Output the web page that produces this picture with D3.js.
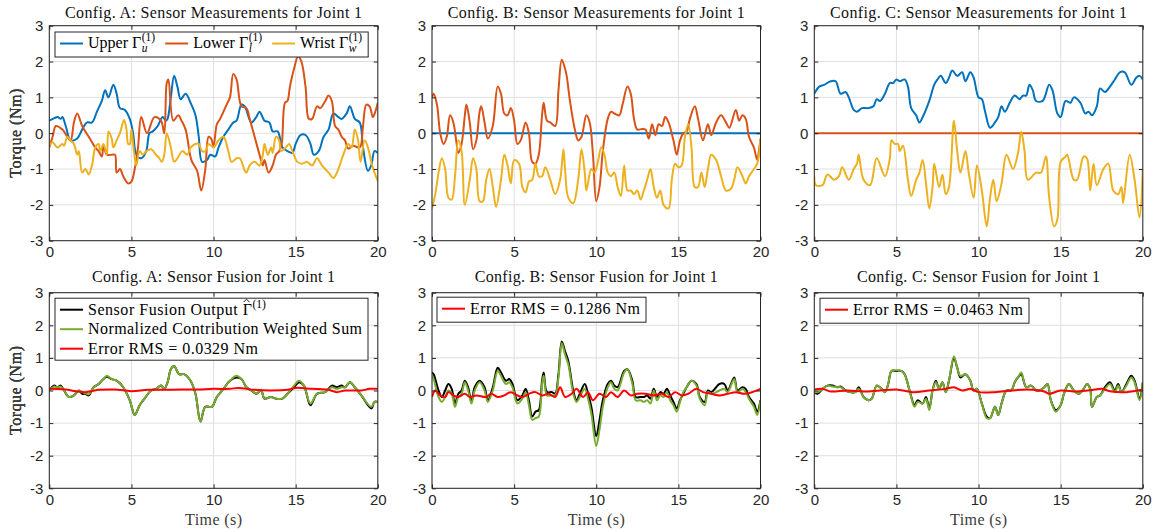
<!DOCTYPE html>
<html>
<head>
  <meta charset="utf-8">
  <title>sensor fusion joint 1</title>
  <script src="https://cdn.jsdelivr.net/npm/d3@7"></script>
  <style>
    body { margin: 0; background: #fff; }
    text { font-family: "Liberation Serif", "Times New Roman", serif; }
  </style>
</head>
<body>
  <div id="chart"></div>
  <script type="text/javascript">
    // ---- data (time s, torque Nm) ----
    var tickX = [0, 5, 10, 15, 20];
    var tickY = [-3, -2, -1, 0, 1, 2, 3];

    var aUpper = [[0,0.35],[0.3,0.42],[0.5,0.45],[0.7,0.4],[0.8,0.45],[1.0,0.2],[1.3,-0.2],[1.7,-0.15],[2.0,0.1],[2.3,0.3],[2.6,0.3],[2.9,0.6],[3.2,0.9],[3.4,1.2],[3.6,1.0],[3.9,1.35],[4.1,1.1],[4.3,0.7],[4.6,0.65],[4.9,0.4],[5.1,0],[5.3,-0.6],[5.6,-0.7],[5.9,-0.5],[6.1,0],[6.3,0.05],[6.6,0.2],[6.9,0.45],[7.1,0.35],[7.2,0.4],[7.4,1.0],[7.6,1.6],[7.8,1.3],[8.0,0.95],[8.3,1.1],[8.6,0.85],[8.9,0.5],[9.1,-0.1],[9.3,-0.8],[9.6,-0.75],[9.8,-0.6],[10.1,-0.65],[10.3,-0.4],[10.6,-0.1],[10.9,0.1],[11.2,0.3],[11.4,0.35],[11.7,0.8],[11.9,0.75],[12.3,0.3],[12.6,0.45],[12.8,0.6],[13.1,0.35],[13.4,0.3],[13.6,0.05],[13.9,0.05],[14.2,-0.4],[14.5,-0.5],[14.8,-0.55],[15.0,-0.3],[15.3,-0.05],[15.6,-0.05],[15.9,-0.3],[16.1,-0.6],[16.4,-0.5],[16.7,-0.1],[17.0,0.1],[17.3,0.55],[17.6,0.45],[17.8,0.4],[18.1,0.55],[18.3,0.75],[18.6,0.4],[18.9,0.3],[19.1,-0.4],[19.4,-1.05],[19.6,-0.9],[19.8,-0.5],[20,-0.55]];
    var aLower = [[0,-0.4],[0.2,-0.1],[0.4,0.2],[0.8,0.1],[1.1,-0.1],[1.3,-0.2],[1.5,0.3],[1.7,0.55],[2.0,0.2],[2.4,-0.1],[2.8,-0.4],[3.0,-0.5],[3.2,-0.65],[3.3,-0.35],[3.5,-0.6],[3.8,-0.6],[4.0,-0.6],[4.1,-1.1],[4.3,-1.0],[4.5,-1.2],[4.8,-1.4],[5.0,-1.35],[5.2,-1.0],[5.4,-0.4],[5.6,0.45],[5.95,0.0],[6.4,0.45],[6.8,0.35],[7.0,0.0],[7.15,1.4],[7.25,1.5],[7.55,0.35],[7.85,0.5],[8.05,0.35],[8.3,0.1],[8.65,-0.75],[9.0,-1.05],[9.25,-1.6],[9.5,-1.0],[9.7,-0.1],[9.85,-0.15],[10.0,-0.35],[10.2,0.25],[10.4,0.4],[10.8,0.8],[11.0,1.0],[11.2,1.65],[11.4,1.5],[11.7,0.75],[12.0,0.7],[12.2,0.4],[12.5,-0.1],[12.8,-0.6],[13.0,-0.9],[13.1,-0.75],[13.35,-1.1],[13.6,-0.9],[13.8,-0.6],[14.0,-0.5],[14.15,-0.3],[14.35,0.85],[14.5,0.9],[14.65,1.3],[14.9,1.8],[15.15,2.15],[15.35,2.0],[15.6,1.3],[15.8,0.4],[16.0,0.4],[16.3,0.75],[16.5,0.7],[16.8,0.9],[17.0,1.05],[17.2,0.9],[17.4,0.2],[17.6,0.1],[17.8,-0.1],[18.0,-0.2],[18.2,-0.43],[18.5,-0.35],[18.9,-0.4],[19.1,0.2],[19.3,0.8],[19.5,0.75],[19.7,0.45],[19.85,0.6],[20,0.85]];
    var aWrist = [[0,-0.35],[0.2,-0.25],[0.5,-0.4],[0.8,-0.3],[0.9,-0.35],[1.1,-0.1],[1.3,-0.2],[1.5,-0.3],[1.7,-0.6],[1.8,-0.5],[2.0,-1.1],[2.2,-1.0],[2.4,-1.15],[2.6,-0.9],[2.8,-0.4],[3.0,-0.3],[3.1,-0.5],[3.3,-0.3],[3.5,-0.6],[3.6,0.05],[3.8,-0.15],[3.9,-0.4],[4.1,-0.2],[4.3,0.0],[4.55,0.37],[4.7,0.1],[4.8,-0.3],[4.9,-0.3],[5.0,0.1],[5.15,-0.5],[5.3,-0.9],[5.5,-0.5],[5.7,-0.6],[5.9,-0.5],[6.2,-0.45],[6.5,-0.6],[6.7,-0.7],[6.85,-0.8],[7.0,-0.6],[7.15,0.0],[7.4,-0.4],[7.6,-0.8],[7.8,-0.7],[8.1,-0.5],[8.4,-0.6],[8.6,-0.4],[8.9,-0.3],[9.1,-0.3],[9.3,-0.5],[9.5,-0.5],[9.7,-0.3],[10.0,-0.4],[10.3,-0.2],[10.6,-0.1],[10.9,-0.5],[11.1,-0.8],[11.4,-0.7],[11.6,-0.7],[11.9,-1.05],[12.0,-1.1],[12.2,-0.9],[12.5,-0.8],[12.8,-0.9],[13.0,-0.6],[13.1,-0.3],[13.3,-0.6],[13.5,-0.4],[13.6,-0.55],[13.8,-0.1],[14.0,-0.2],[14.1,-0.5],[14.4,-0.4],[14.6,-0.3],[14.8,-0.5],[15.1,-0.8],[15.4,-0.85],[15.7,-0.8],[16.0,-0.9],[16.3,-0.7],[16.6,-0.9],[17.0,-1.1],[17.3,-1.25],[17.6,-1.0],[17.9,-0.6],[18.2,-0.3],[18.4,-0.4],[18.6,0.1],[18.8,-0.2],[18.95,-0.8],[19.2,-0.2],[19.4,-0.4],[19.6,-0.8],[19.8,-1.1],[20,-1.33]];

    var bUpper = [[0,0],[20,0]];
    var bLower = [[0,1.0],[0.1,1.1],[0.3,0.8],[0.5,0.0],[0.7,-0.3],[0.9,-0.1],[1.1,0.5],[1.3,0.3],[1.5,-0.3],[1.6,-0.55],[1.8,-0.3],[2.0,0.5],[2.1,0.8],[2.3,0.3],[2.5,-0.45],[2.7,-0.2],[2.9,0.6],[3.0,0.75],[3.2,0.3],[3.4,-0.15],[3.7,0.2],[4.0,1.3],[4.2,1.1],[4.4,0.55],[4.6,0.5],[4.8,0.7],[5.0,0.35],[5.2,-0.3],[5.4,-0.2],[5.7,0.3],[5.9,0.0],[6.1,-0.8],[6.3,-0.85],[6.5,-0.6],[6.7,0.5],[6.8,0.85],[7.0,0.35],[7.2,0.3],[7.5,0.2],[7.7,1.2],[7.9,2.05],[8.1,1.8],[8.2,1.6],[8.4,0.9],[8.7,0.1],[8.9,-0.2],[9.1,-0.1],[9.4,0.5],[9.6,0.3],[9.8,-0.6],[10.0,-1.9],[10.2,-1.5],[10.4,-0.5],[10.7,0.4],[10.9,0.6],[11.1,0.55],[11.4,0.5],[11.6,0.8],[11.9,1.3],[12.1,1.1],[12.3,0.4],[12.5,0.1],[12.8,0.12],[13.0,0.1],[13.2,-0.15],[13.4,0.25],[13.6,-0.05],[13.8,0.25],[14.0,0.2],[14.2,0.45],[14.4,0.3],[14.7,-0.2],[14.9,-0.6],[15.1,-0.2],[15.3,0.0],[15.5,0.05],[15.7,0.4],[16.0,0.75],[16.2,0.4],[16.5,-0.2],[16.8,0.25],[17.0,-0.05],[17.3,0.3],[17.6,0.5],[17.9,0.3],[18.1,0.15],[18.5,0.65],[18.7,0.35],[18.9,0.5],[19.1,0.4],[19.3,-0.1],[19.6,-0.4],[19.8,-0.75],[19.9,-0.5],[20,-0.15]];
    var bWrist = [[0,-2.1],[0.2,-1.7],[0.4,-1.1],[0.6,-0.7],[0.8,-1.0],[1.0,-1.8],[1.2,-1.85],[1.4,-1.2],[1.6,-0.2],[1.8,-0.5],[2.0,-2.0],[2.3,-1.3],[2.5,-0.7],[2.7,-1.0],[2.9,-1.9],[3.1,-1.9],[3.3,-1.3],[3.5,-1.0],[3.7,-1.5],[3.9,-2.05],[4.2,-1.3],[4.4,-0.6],[4.6,-0.9],[4.8,-1.4],[5.0,-0.75],[5.3,-0.85],[5.5,-1.5],[5.7,-1.65],[5.9,-1.35],[6.1,-1.3],[6.3,-0.85],[6.5,-1.2],[6.7,-1.2],[6.9,-0.95],[7.2,-1.3],[7.5,-1.7],[7.8,-1.3],[8.0,-0.45],[8.1,-1.0],[8.3,-1.8],[8.6,-1.95],[8.9,-1.3],[9.1,-0.45],[9.3,-1.1],[9.4,-1.6],[9.7,-1.0],[9.9,-1.1],[10.1,-0.8],[10.3,-0.4],[10.5,-0.6],[10.7,-1.1],[10.9,-1.2],[11.1,-1.1],[11.3,-1.5],[11.5,-1.75],[11.7,-0.9],[11.9,-1.6],[12.1,-1.6],[12.3,-1.7],[12.5,-1.6],[12.7,-1.85],[12.9,-1.6],[13.1,-1.3],[13.3,-1.0],[13.5,-1.5],[13.7,-1.8],[13.9,-1.6],[14.1,-2.0],[14.4,-2.1],[14.6,-1.3],[14.8,-0.85],[15.0,-0.95],[15.2,-0.9],[15.4,-0.1],[15.6,0.25],[15.8,-0.4],[16.0,-1.5],[16.2,-1.5],[16.4,-1.1],[16.6,-1.5],[16.8,-1.0],[17.0,-0.6],[17.3,-0.75],[17.6,-1.2],[17.9,-1.6],[18.2,-1.55],[18.4,-1.3],[18.6,-0.95],[18.9,-1.2],[19.1,-1.4],[19.3,-1.2],[19.6,-1.0],[19.8,-0.85],[20,-0.15]];

    var cUpper = [[0,1.1],[0.3,1.3],[0.6,1.35],[1.0,1.45],[1.3,1.45],[1.6,1.1],[1.9,1.15],[2.1,1.0],[2.4,0.65],[2.6,0.6],[2.9,0.7],[3.3,0.7],[3.6,0.75],[3.8,0.95],[4.0,0.9],[4.3,1.1],[4.6,1.4],[4.8,1.4],[5.0,1.5],[5.2,1.45],[5.5,1.5],[5.7,1.3],[5.9,0.7],[6.2,0.5],[6.4,0.3],[6.6,0.45],[7.0,0.9],[7.3,1.35],[7.5,1.5],[7.7,1.6],[8.0,1.4],[8.2,1.55],[8.4,1.75],[8.7,1.6],[9.0,1.7],[9.2,1.45],[9.5,1.7],[9.7,1.55],[10.0,1.0],[10.2,0.95],[10.4,0.6],[10.7,0.15],[11.0,0.3],[11.2,0.45],[11.4,0.75],[11.6,0.6],[11.9,0.85],[12.2,1.05],[12.5,0.95],[12.7,1.05],[12.9,1.05],[13.1,1.35],[13.3,1.2],[13.5,0.9],[13.9,0.9],[14.3,1.35],[14.5,1.2],[14.8,0.55],[15.0,0.45],[15.3,0.9],[15.6,0.85],[15.8,1.0],[16.2,0.85],[16.5,0.55],[16.7,0.6],[16.9,0.5],[17.2,0.75],[17.4,1.25],[17.7,1.15],[18.0,1.3],[18.3,1.5],[18.6,1.7],[18.9,1.7],[19.3,1.35],[19.6,1.55],[19.8,1.6],[20,1.5]];
    var cLower = [[0,0],[20,0]];
    var cWrist = [[0,-1.2],[0.1,-1.45],[0.5,-1.45],[0.8,-1.15],[1.2,-1.3],[1.5,-1.2],[1.7,-0.95],[2.1,-1.3],[2.4,-1.0],[2.6,-0.85],[2.7,-0.6],[3.0,-1.3],[3.4,-1.45],[3.8,-0.7],[4.3,-1.2],[4.6,-0.7],[4.7,-0.2],[4.9,-0.3],[5.1,-0.3],[5.2,-0.5],[5.4,-0.35],[5.7,-1.3],[5.9,-1.75],[6.2,-1.3],[6.4,-1.1],[6.6,-0.75],[6.8,-1.4],[7.0,-2.1],[7.2,-1.5],[7.3,-0.85],[7.6,-1.5],[7.8,-1.15],[8.0,-1.7],[8.2,-1.5],[8.5,0.35],[8.7,-0.5],[8.9,-1.1],[9.2,-0.5],[9.4,-1.1],[9.7,-1.8],[9.9,-0.9],[10.2,-1.6],[10.5,-2.6],[10.7,-1.8],[10.9,-1.3],[11.1,-1.9],[11.4,-1.4],[11.7,-0.6],[12.1,-1.0],[12.4,-0.55],[12.6,0.05],[12.8,-0.5],[13.0,-1.3],[13.5,-1.1],[13.8,-1.1],[14.1,-0.65],[14.3,-1.8],[14.6,-2.6],[14.8,-2.4],[15.0,-0.8],[15.3,-0.65],[15.4,-0.6],[15.8,-1.3],[16.0,-1.3],[16.4,-0.65],[16.6,-0.7],[16.8,-1.6],[17.0,-0.85],[17.2,-1.45],[17.6,-1.0],[17.9,-0.85],[18.2,-1.6],[18.5,-1.7],[18.7,-1.5],[18.8,-1.95],[19.2,-0.6],[19.5,-1.3],[19.8,-2.35],[20,-1.0]];

    var aFusion = [[0,0.0],[0.3,0.15],[0.5,0.1],[0.7,0.15],[0.9,0.0],[1.2,-0.2],[1.5,-0.15],[1.8,0.0],[2.0,-0.1],[2.2,-0.1],[2.4,-0.15],[2.7,0.1],[3.0,0.2],[3.3,0.35],[3.5,0.42],[3.8,0.35],[4.1,0.3],[4.5,0.1],[4.9,-0.3],[5.2,-0.75],[5.5,-0.45],[5.8,-0.25],[6.2,0.0],[6.5,0.05],[6.8,0.15],[7.0,0.05],[7.2,0.25],[7.4,0.65],[7.6,0.75],[7.9,0.5],[8.2,0.5],[8.6,0.3],[8.9,-0.1],[9.2,-0.95],[9.5,-0.5],[9.9,-0.5],[10.2,-0.2],[10.6,0.05],[11.0,0.3],[11.4,0.4],[11.7,0.35],[12.0,0.1],[12.3,0.0],[12.6,-0.1],[12.9,0.0],[13.1,-0.25],[13.5,-0.2],[13.8,-0.25],[14.2,-0.25],[14.5,-0.1],[14.9,0.1],[15.2,0.25],[15.5,0.15],[15.9,-0.45],[16.3,-0.1],[16.8,-0.05],[17.2,0.15],[17.5,0.1],[17.8,0.15],[18.0,0.1],[18.3,0.25],[18.6,0.1],[19.0,-0.15],[19.6,-0.55],[19.8,-0.35],[20,-0.35]];
    var aWeighted = [[0,0.0],[0.3,0.12],[0.5,0.1],[0.7,0.12],[0.9,0.0],[1.2,-0.2],[1.5,-0.15],[1.8,0.0],[2.0,-0.05],[2.2,-0.08],[2.4,-0.12],[2.7,0.1],[3.0,0.2],[3.3,0.35],[3.5,0.45],[3.8,0.35],[4.1,0.3],[4.5,0.1],[4.9,-0.3],[5.2,-0.75],[5.5,-0.45],[5.8,-0.25],[6.2,0.0],[6.5,0.05],[6.8,0.15],[7.0,0.05],[7.2,0.25],[7.4,0.65],[7.6,0.75],[7.9,0.5],[8.2,0.5],[8.6,0.3],[8.9,-0.1],[9.2,-0.95],[9.5,-0.5],[9.9,-0.5],[10.2,-0.2],[10.6,0.05],[11.0,0.3],[11.4,0.45],[11.7,0.35],[12.0,0.1],[12.3,0.0],[12.6,-0.1],[12.9,0.0],[13.1,-0.25],[13.5,-0.2],[13.8,-0.25],[14.2,-0.25],[14.5,-0.1],[14.9,0.15],[15.2,0.3],[15.5,0.15],[15.9,-0.4],[16.3,-0.1],[16.8,-0.05],[17.2,0.1],[17.5,0.05],[17.8,0.1],[18.0,0.1],[18.3,0.25],[18.6,0.1],[19.0,-0.15],[19.6,-0.5],[19.8,-0.35],[20,-0.35]];
    var aError = [[0,0.05],[1,0.03],[1.6,-0.02],[2.2,-0.05],[3,0.02],[4,0.03],[5,-0.02],[6,0.02],[7,0.02],[8,0.03],[9,0.03],[10,0.05],[11,0.05],[11.5,0.08],[12.5,0.02],[13.5,0.0],[14.5,0.02],[15,0.08],[16,0.05],[17,0.02],[17.5,-0.05],[18,0.0],[19,0.0],[19.5,0.05],[20,0.05]];

    var bFusion = [[0,0.55],[0.1,0.5],[0.4,0.0],[0.6,-0.2],[0.8,0.0],[1.0,0.2],[1.2,0.05],[1.4,-0.4],[1.6,-0.1],[1.8,0.0],[2.0,0.3],[2.2,0.1],[2.4,-0.35],[2.6,0.1],[2.9,0.3],[3.2,0.1],[3.4,-0.3],[3.7,0.1],[4.0,0.7],[4.2,0.55],[4.5,0.3],[4.7,0.35],[4.9,0.2],[5.2,-0.3],[5.5,-0.15],[5.7,0.05],[5.9,-0.3],[6.1,-0.8],[6.3,-0.65],[6.5,-0.6],[6.7,0.3],[6.8,0.55],[7.0,-0.05],[7.3,-0.05],[7.5,-0.1],[7.7,0.5],[7.9,1.5],[8.1,1.2],[8.3,0.9],[8.6,0.0],[8.8,-0.3],[9.0,-0.1],[9.3,0.2],[9.5,-0.1],[9.7,-0.5],[10.0,-1.4],[10.2,-0.9],[10.4,-0.3],[10.7,0.2],[10.9,0.3],[11.1,0.15],[11.3,0.1],[11.7,0.6],[11.9,0.65],[12.2,0.3],[12.4,-0.2],[12.7,-0.2],[12.9,-0.2],[13.1,-0.15],[13.3,-0.25],[13.5,0.05],[13.7,-0.2],[13.9,-0.05],[14.1,-0.1],[14.3,0.05],[14.5,-0.15],[14.7,-0.35],[14.9,-0.55],[15.1,-0.3],[15.3,-0.1],[15.5,0.1],[15.8,0.3],[16.1,0.2],[16.3,-0.2],[16.6,-0.35],[16.8,0.0],[17.0,-0.05],[17.3,0.1],[17.5,0.2],[17.8,0.2],[18.0,0.0],[18.4,0.4],[18.6,0.0],[18.9,0.1],[19.1,0.05],[19.3,-0.2],[19.6,-0.4],[19.8,-0.65],[20,-0.3]];
    var bWeighted = [[0,0.45],[0.1,0.35],[0.4,-0.2],[0.6,-0.35],[0.8,-0.2],[1.0,0.0],[1.2,-0.1],[1.4,-0.5],[1.6,-0.2],[1.8,-0.1],[2.0,0.25],[2.2,0.0],[2.4,-0.4],[2.6,0.0],[2.9,0.25],[3.2,0.0],[3.4,-0.35],[3.7,0.0],[4.0,0.6],[4.2,0.45],[4.5,0.2],[4.7,0.25],[4.9,0.1],[5.2,-0.4],[5.5,-0.25],[5.7,-0.05],[5.9,-0.45],[6.1,-0.9],[6.3,-0.85],[6.5,-0.8],[6.7,0.2],[6.8,0.45],[7.0,-0.15],[7.3,-0.15],[7.5,-0.15],[7.7,0.4],[7.9,1.45],[8.1,1.1],[8.3,0.8],[8.6,-0.1],[8.8,-0.35],[9.0,-0.2],[9.3,0.05],[9.5,-0.25],[9.7,-0.7],[10.0,-1.7],[10.2,-1.2],[10.4,-0.5],[10.7,0.1],[10.9,0.25],[11.1,0.05],[11.3,0.0],[11.7,0.55],[11.9,0.65],[12.2,0.2],[12.4,-0.3],[12.7,-0.3],[12.9,-0.35],[13.1,-0.3],[13.3,-0.4],[13.5,0.0],[13.7,-0.3],[13.9,-0.15],[14.1,-0.2],[14.3,-0.05],[14.5,-0.3],[14.7,-0.45],[14.9,-0.65],[15.1,-0.35],[15.3,-0.05],[15.5,0.1],[15.8,0.3],[16.1,0.15],[16.3,-0.25],[16.6,-0.45],[16.8,-0.05],[17.0,-0.1],[17.3,-0.05],[17.5,0.0],[17.8,0.05],[18.0,-0.05],[18.4,0.35],[18.6,-0.05],[18.9,0.05],[19.1,-0.05],[19.3,-0.25],[19.6,-0.5],[19.8,-0.75],[20,-0.3]];
    var bError = [[0,-0.2],[0.2,0.0],[0.5,-0.15],[0.8,-0.2],[1.0,-0.05],[1.3,-0.15],[1.6,-0.2],[2.0,-0.1],[2.3,-0.2],[2.7,-0.15],[3.3,-0.2],[3.6,-0.1],[4.0,-0.2],[4.4,-0.15],[4.8,-0.05],[5.2,-0.15],[5.5,-0.2],[5.9,-0.1],[6.3,-0.05],[6.7,-0.15],[7.1,-0.1],[7.5,-0.2],[7.8,0.1],[8.1,-0.2],[8.5,-0.1],[8.8,0.05],[9.2,-0.2],[9.5,-0.05],[9.8,-0.3],[10.2,-0.1],[10.6,-0.2],[10.9,-0.05],[11.3,-0.2],[11.7,0.0],[12.1,-0.15],[12.5,-0.1],[13.0,-0.1],[13.5,-0.15],[14.0,-0.1],[14.4,-0.2],[14.8,-0.05],[15.2,-0.15],[15.6,-0.1],[16.1,0.05],[16.5,-0.05],[17.0,-0.1],[17.5,-0.15],[18.0,-0.1],[18.5,-0.05],[19.0,-0.1],[19.5,-0.05],[20,0.05]];

    var cFusion = [[0,-0.05],[0.2,-0.1],[0.5,0.05],[0.8,0.15],[1.1,0.15],[1.4,0.1],[1.6,0.12],[1.9,0.0],[2.2,-0.05],[2.5,-0.05],[2.7,0.1],[3.0,-0.2],[3.3,-0.3],[3.5,-0.25],[3.8,0.15],[4.1,0.05],[4.3,-0.05],[4.5,0.2],[4.7,0.6],[5.0,0.6],[5.3,0.6],[5.5,0.5],[5.8,0.0],[6.1,-0.45],[6.3,-0.3],[6.6,-0.4],[6.8,-0.2],[7.0,-0.55],[7.2,0.0],[7.4,0.3],[7.6,0.05],[7.8,0.25],[8.0,-0.05],[8.2,0.3],[8.5,1.0],[8.7,0.7],[8.9,0.4],[9.2,0.5],[9.5,0.3],[9.7,0.0],[9.9,0.05],[10.2,-0.4],[10.5,-0.8],[10.7,-0.85],[11.0,-0.5],[11.2,-0.75],[11.4,-0.4],[11.7,0.0],[12.0,0.0],[12.2,0.25],[12.4,0.4],[12.6,0.5],[12.9,0.1],[13.2,0.15],[13.5,0.0],[13.7,0.0],[14.0,0.1],[14.2,0.2],[14.4,-0.3],[14.7,-0.6],[15.0,-0.45],[15.2,-0.1],[15.5,0.2],[15.8,0.0],[16.1,-0.1],[16.4,0.05],[16.6,0.2],[16.8,0.05],[16.9,-0.5],[17.2,-0.2],[17.4,-0.15],[17.7,0.1],[18.0,0.25],[18.3,0.0],[18.5,0.2],[18.7,-0.05],[19.0,0.2],[19.3,0.45],[19.5,0.3],[19.8,-0.25],[20,0.25]];
    var cWeighted = [[0,-0.05],[0.2,-0.05],[0.5,0.05],[0.8,0.15],[1.1,0.12],[1.4,0.1],[1.6,0.1],[1.9,0.0],[2.2,-0.05],[2.5,-0.05],[2.7,0.05],[3.0,-0.2],[3.3,-0.3],[3.5,-0.25],[3.8,0.15],[4.1,0.05],[4.3,-0.05],[4.5,0.2],[4.7,0.6],[5.0,0.62],[5.3,0.6],[5.5,0.5],[5.8,0.0],[6.1,-0.5],[6.3,-0.35],[6.6,-0.4],[6.8,-0.25],[7.0,-0.6],[7.2,0.0],[7.4,0.25],[7.6,0.05],[7.8,0.25],[8.0,-0.05],[8.2,0.3],[8.5,1.05],[8.7,0.7],[8.9,0.45],[9.2,0.5],[9.5,0.3],[9.7,0.0],[9.9,0.05],[10.2,-0.4],[10.5,-0.85],[10.7,-0.85],[11.0,-0.5],[11.2,-0.75],[11.4,-0.4],[11.7,0.0],[12.0,0.0],[12.2,0.25],[12.4,0.4],[12.6,0.55],[12.9,0.1],[13.2,0.15],[13.5,0.0],[13.7,0.0],[14.0,0.1],[14.2,0.2],[14.4,-0.3],[14.7,-0.65],[15.0,-0.45],[15.2,-0.1],[15.5,0.2],[15.8,0.0],[16.1,-0.1],[16.4,0.05],[16.6,0.2],[16.8,0.05],[16.9,-0.5],[17.2,-0.2],[17.4,-0.15],[17.7,0.05],[18.0,0.2],[18.3,-0.05],[18.5,0.15],[18.7,-0.05],[19.0,0.15],[19.3,0.4],[19.5,0.25],[19.8,-0.3],[20,0.25]];
    var cError = [[0,0.03],[0.5,0.05],[1,-0.03],[2,0.0],[3,-0.03],[4,0.0],[5,0.03],[6,-0.05],[7,0.0],[8,0.05],[8.5,0.1],[9,0.0],[9.5,0.05],[10,-0.05],[11,-0.05],[12,0.0],[13,0.03],[14,-0.03],[14.3,-0.1],[15,0.0],[16,-0.03],[17,0.02],[17.5,0.05],[18,-0.02],[19,-0.05],[20,0.03]];

    // ---- layout ----
    var w = 1155, h = 532;
    var colX = [49.3, 432, 814.3];
    var pw = 328.5;
    var rowY = [25.7, 292.7];
    var rowH = [215, 195.6];
    var col = {
      upper: "#0072BD", lower: "#D95319", wrist: "#EDB120",
      fusion: "#000000", weighted: "#77AC30", error: "#FF0000"
    };
    var ink = "#262626";
    var labelInk = "#3a3a3a";

    var svg = d3.select("#chart")
      .append("svg")
      .attr("width", w)
      .attr("height", h);

    var clipId = 0;

    // label like "Upper Γ" with stacked sub/sup
    function mathText(g, x, y, base, sub, sup, opt) {
      opt = opt || {};
      var t = g.append("text").attr("x", x).attr("y", y)
        .attr("font-size", 16).attr("fill", "#000").text(base);
      if (opt.len) t.attr("textLength", opt.len).attr("lengthAdjust", "spacing");
      var bw = t.node().getComputedTextLength();
      if (opt.len) bw = opt.len;
      var end = x + bw;
      if (opt.hat) {
        // circumflex over the last glyph, drawn as a stroke
        g.append("path")
          .attr("d", "M" + (end - 8.5) + "," + (y - 12.5) + "L" + (end - 5.5) + "," + (y - 15.5) + "L" + (end - 2.5) + "," + (y - 12.5))
          .attr("fill", "none").attr("stroke", "#000").attr("stroke-width", 0.9);
      }
      var sx = end + 0.5, ends = [end];
      if (sub) {
        var s = g.append("text").attr("x", sx).attr("y", y + 3.5)
          .attr("font-size", 11.5).attr("font-style", "italic").text(sub);
        ends.push(sx + s.node().getComputedTextLength());
      }
      if (sup) {
        var p = g.append("text").attr("x", sx).attr("y", y - 7)
          .attr("font-size", 11.5).text(sup);
        ends.push(sx + p.node().getComputedTextLength());
      }
      return d3.max(ends);
    }

    function legendBox(g, bx, by, entries, horizontal) {
      var lg = g.append("g");
      var box = lg.append("rect").attr("fill", "#fff").attr("stroke", ink).attr("stroke-width", 1);
      var x = bx + 5, y = by + 11.5, right = 0;
      entries.forEach(function(e, i) {
        if (!horizontal) { x = bx + 5; y = by + 11.5 + i * 19.5; }
        lg.append("line").attr("x1", x).attr("x2", x + 23).attr("y1", y).attr("y2", y)
          .attr("stroke", e.color).attr("stroke-width", 2);
        var end = mathText(lg, x + 28, y + 5, e.base, e.sub, e.sup, e);
        right = Math.max(right, end);
        x = end + 10;
      });
      var rows = horizontal ? 1 : entries.length;
      box.attr("x", bx).attr("y", by)
        .attr("width", right + 6 - bx)
        .attr("height", horizontal ? 25 : 23 + (rows - 1) * 19.5);
    }

    function panel(ci, ri, title, titleLen, series, legend, horizontal) {
      var ph = rowH[ri];
      var x = d3.scaleLinear().domain([0, 20]).range([0, pw]);
      var y = d3.scaleLinear().domain([-3, 3]).range([ph, 0]);
      var g = svg.append("g").attr("transform", "translate(" + colX[ci] + "," + rowY[ri] + ")");

      // grid
      g.selectAll(".gx").data(tickX).enter().append("line")
        .attr("x1", function(d) { return x(d); }).attr("x2", function(d) { return x(d); })
        .attr("y1", 0).attr("y2", ph).attr("stroke", "#dfdfdf").attr("stroke-width", 1);
      g.selectAll(".gy").data(tickY).enter().append("line")
        .attr("y1", function(d) { return y(d); }).attr("y2", function(d) { return y(d); })
        .attr("x1", 0).attr("x2", pw).attr("stroke", "#dfdfdf").attr("stroke-width", 1);

      // lines
      var id = "clip" + (clipId++);
      g.append("clipPath").attr("id", id).append("rect").attr("width", pw).attr("height", ph);
      var line = d3.line()
        .x(function(d) { return x(d[0]); })
        .y(function(d) { return y(d[1]); })
        .curve(d3.curveCatmullRom.alpha(0.5));
      g.append("g").attr("clip-path", "url(#" + id + ")")
        .selectAll("path").data(series).enter().append("path")
        .attr("d", function(s) { return line(s.data); })
        .attr("fill", "none")
        .attr("stroke", function(s) { return s.color; })
        .attr("stroke-width", function(s) { return s.width || 2; })
        .attr("stroke-linejoin", "round");

      // axes
      var fmt = function(d) { return String(d); };
      g.append("g").attr("transform", "translate(0," + ph + ")")
        .call(d3.axisBottom(x).tickValues(tickX).tickFormat(fmt).tickSizeInner(-4).tickSizeOuter(0).tickPadding(6));
      g.append("g")
        .call(d3.axisLeft(y).tickValues(tickY).tickFormat(fmt).tickSizeInner(-4).tickSizeOuter(0).tickPadding(6));
      g.append("g").attr("transform", "translate(" + pw + ",0)")
        .call(d3.axisRight(y).tickValues(tickY).tickFormat("").tickSizeInner(-4).tickSizeOuter(0));
      g.append("g")
        .call(d3.axisTop(x).tickValues(tickX).tickFormat("").tickSizeInner(-4).tickSizeOuter(0));
      g.selectAll(".domain").remove();
      g.selectAll(".tick line").attr("stroke", ink);
      g.selectAll(".tick text")
        .attr("fill", ink)
        .style("font-family", "'Liberation Sans', Arial, sans-serif")
        .style("font-size", "15px");
      g.append("rect").attr("width", pw).attr("height", ph)
        .attr("fill", "none").attr("stroke", ink).attr("stroke-width", 1);

      // title and labels
      g.append("text").attr("x", pw / 2).attr("y", ri === 0 ? -8.2 : -10.7)
        .attr("text-anchor", "middle").attr("font-size", 16).attr("fill", "#111")
        .attr("textLength", titleLen).attr("lengthAdjust", "spacing")
        .text(title);
      g.append("text")
        .attr("transform", "translate(" + (21 - colX[ci]) + "," + (ph / 2) + ") rotate(-90)")
        .attr("text-anchor", "middle").attr("font-size", 16).attr("fill", labelInk)
        .attr("textLength", 89).attr("lengthAdjust", "spacing")
        .text("Torque (Nm)");
      if (ri === 1) {
        g.append("text").attr("x", pw / 2).attr("y", ph + 36.5)
          .attr("text-anchor", "middle").attr("font-size", 16).attr("fill", labelInk)
          .attr("textLength", 57).attr("lengthAdjust", "spacing")
          .text("Time (s)");
      }

      if (legend) legendBox(g, legend.x, legend.y, legend.entries, horizontal);
    }

    var topLegend = {
      x: 5.7, y: 6.3,
      entries: [
        { color: col.upper, base: "Upper \u0393", sub: "u", sup: "(1)" },
        { color: col.lower, base: "Lower \u0393", sub: "l", sup: "(1)" },
        { color: col.wrist, base: "Wrist \u0393", sub: "w", sup: "(1)" }
      ]
    };
    var fusionLegend = {
      x: 5.7, y: 5.5,
      entries: [
        { color: col.fusion, base: "Sensor Fusion Output \u0393", sup: "(1)", hat: true, len: 164 },
        { color: col.weighted, base: "Normalized Contribution Weighted Sum", len: 274 },
        { color: col.error, base: "Error RMS = 0.0329 Nm", len: 170 }
      ]
    };

    panel(0, 0, "Config. A: Sensor Measurements for Joint 1", 297, [
      { data: aUpper, color: col.upper },
      { data: aLower, color: col.lower },
      { data: aWrist, color: col.wrist }
    ], topLegend, true);
    panel(1, 0, "Config. B: Sensor Measurements for Joint 1", 297, [
      { data: bUpper, color: col.upper },
      { data: bLower, color: col.lower },
      { data: bWrist, color: col.wrist }
    ]);
    panel(2, 0, "Config. C: Sensor Measurements for Joint 1", 297, [
      { data: cUpper, color: col.upper },
      { data: cLower, color: col.lower },
      { data: cWrist, color: col.wrist }
    ]);

    panel(0, 1, "Config. A: Sensor Fusion for Joint 1", 243, [
      { data: aFusion, color: col.fusion },
      { data: aWeighted, color: col.weighted },
      { data: aError, color: col.error }
    ], fusionLegend, false);
    panel(1, 1, "Config. B: Sensor Fusion for Joint 1", 243, [
      { data: bFusion, color: col.fusion },
      { data: bWeighted, color: col.weighted },
      { data: bError, color: col.error }
    ], { x: 5, y: 4.5, entries: [{ color: col.error, base: "Error RMS = 0.1286 Nm", len: 170 }] }, true);
    panel(2, 1, "Config. C: Sensor Fusion for Joint 1", 243, [
      { data: cFusion, color: col.fusion },
      { data: cWeighted, color: col.weighted },
      { data: cError, color: col.error }
    ], { x: 5.7, y: 5.5, entries: [{ color: col.error, base: "Error RMS = 0.0463 Nm", len: 170 }] }, true);
  </script>
</body>
</html>
